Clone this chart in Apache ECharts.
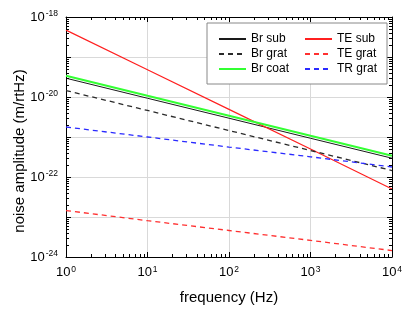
<!DOCTYPE html>
<html>
<head>
<meta charset="utf-8">
<script src="https://cdn.jsdelivr.net/npm/echarts@6/dist/echarts.min.js"></script>
<style>html,body{margin:0;padding:0;background:#fff}#c{width:409px;height:312px}</style>
</head>
<body>
<div id="c"></div>
<script>
// ---- data ----
const freqs   = [1, 10, 100, 1000, 10000];
const brSub   = [2.95e-20, 9.3e-21, 2.95e-21, 9.3e-22, 2.95e-22];
const teSub   = [4.7e-19, 4.8e-20, 4.9e-21, 5.0e-22, 5.0e-23];
const brGrat  = [1.45e-20, 4.6e-21, 1.45e-21, 4.6e-22, 1.45e-22];
const teGrat  = [1.45e-23, 8.1e-24, 4.6e-24, 2.6e-24, 1.45e-24];
const brCoat  = [3.4e-20, 1.07e-20, 3.4e-21, 1.07e-21, 3.4e-22];
const trGrat  = [1.78e-21, 1.0e-21, 5.6e-22, 3.2e-22, 1.78e-22];
const seriesNames = ['Br sub', 'TE sub', 'Br grat', 'TE grat', 'Br coat', 'TR grat'];
const xMin = 1, xMax = 1e4, yMin = 1e-24, yMax = 1e-18;
const xLabelExps = [0, 1, 2, 3, 4];
const yLabelExps = [-24, -22, -20, -18];
const minorMantissas = [2, 3, 4, 5, 6, 7, 8, 9];
const xDecades = [1, 10, 100, 1000];
const yDecades = [1e-24, 1e-23, 1e-22, 1e-21, 1e-20, 1e-19];

// ECharts' log scale rounds tiny tick values to 0, so the y values are
// plotted in units of 1e-24 m/rtHz and the labels put the exponent back.
const Y_UNIT_EXP = -24;
const yu = (v) => v / Math.pow(10, Y_UNIT_EXP);

const FONT = 'Liberation Sans, Arial, sans-serif';
const pair = (arr) => freqs.map((f, i) => [f, yu(arr[i])]);
const expOf = (v) => Math.round(Math.log10(v));
const rich = {
  b: { fontSize: 13, fontFamily: FONT, color: '#000' },
  s: { fontSize: 8.5, fontFamily: FONT, color: '#000', verticalAlign: 'top', padding: [0, 0, 6, 1] }
};
const xMinor = [], yMinor = [];
xDecades.forEach(d => minorMantissas.forEach(m => xMinor.push([m * d, yu(yMin)])));
yDecades.forEach(d => minorMantissas.forEach(m => yMinor.push([xMin, yu(m * d)])));

const px = (v) => Math.round(v) + 0.5;
function lineEl(x1, y1, x2, y2) {
  return { type: 'line', shape: { x1, y1, x2, y2 }, style: { stroke: '#000', lineWidth: 1 } };
}

function mkLine(name, arr, color, width, dashed) {
  return {
    name, type: 'line', data: pair(arr), showSymbol: false, symbol: 'none',
    lineStyle: { color, width, type: dashed ? [5, 4] : 'solid' },
    itemStyle: { color }, z: 3
  };
}

const chart = echarts.init(document.getElementById('c'));
const axisCommon = () => ({
  type: 'log', logBase: 10,
  nameMoveOverlap: false,
  axisLine: { show: true, onZero: false, lineStyle: { color: '#000', width: 1 } },
  axisTick: { show: true, inside: true, length: 5, lineStyle: { color: '#000' } },
  splitLine: { show: false }
});
chart.setOption({
  animation: false,
  backgroundColor: '#fff',
  grid: { left: 66, right: 17, top: 17, bottom: 55, containLabel: false, outerBoundsMode: 'none' },
  legend: {
    data: seriesNames,
    orient: 'horizontal',
    left: 207, top: 23, width: 170,
    itemWidth: 27, itemHeight: 12, itemGap: 3,
    padding: [10, 0, 9, 11],
    borderColor: '#888', borderWidth: 1, borderRadius: 0,
    backgroundColor: '#fff',
    itemStyle: { color: 'rgba(0,0,0,0)', borderWidth: 0, opacity: 0 },
    textStyle: { fontSize: 12, fontFamily: FONT, color: '#000', width: 50, lineHeight: 12 }
  },
  xAxis: [
    Object.assign(axisCommon(), {
      min: xMin, max: xMax, position: 'bottom',
      name: 'frequency (Hz)', nameLocation: 'middle', nameGap: 33,
      nameTextStyle: { fontSize: 15, fontFamily: FONT, color: '#000' },
      splitLine: { show: true, lineStyle: { color: '#d9d9d9', width: 1 } },
      axisLabel: {
        margin: 8, color: '#000',
        formatter: (v) => { const e = expOf(v); return xLabelExps.includes(e) ? '{b|10}{s|' + e + '}' : ''; },
        rich
      }
    }),
    Object.assign(axisCommon(), { min: xMin, max: xMax, position: 'top', axisLabel: { show: false } })
  ],
  yAxis: [
    Object.assign(axisCommon(), {
      min: yu(yMin), max: yu(yMax), position: 'left',
      name: 'noise amplitude (m/rtHz)', nameLocation: 'middle', nameGap: 39,
      nameTextStyle: { fontSize: 15, fontFamily: FONT, color: '#000', padding: [0, 28, 0, 0] },
      splitLine: { show: true, lineStyle: { color: '#d9d9d9', width: 1 } },
      axisLabel: {
        margin: 8, color: '#000',
        formatter: (v) => { const e = expOf(v) + Y_UNIT_EXP; return yLabelExps.includes(e) ? '{b|10}{s|' + e + '}' : ''; },
        rich
      }
    }),
    Object.assign(axisCommon(), { min: yu(yMin), max: yu(yMax), position: 'right', axisLabel: { show: false } })
  ],
  series: [
    mkLine('Br sub', brSub, '#1a1a1a', 1, false),
    mkLine('TE sub', teSub, '#ff2020', 1.2, false),
    mkLine('Br grat', brGrat, '#2a2a2a', 1.3, true),
    mkLine('TE grat', teGrat, '#ff3030', 1.3, true),
    mkLine('Br coat', brCoat, '#33ff33', 2, false),
    mkLine('TR grat', trGrat, '#2a2aff', 1.3, true),
    {
      type: 'custom', name: 'xminor', data: xMinor, silent: true, clip: false, z: 5,
      renderItem: (params, api) => {
        const v = api.value(0);
        const b = api.coord([v, yu(yMin)]), t = api.coord([v, yu(yMax)]);
        const x = px(b[0]);
        return { type: 'group', children: [lineEl(x, b[1], x, b[1] - 3), lineEl(x, t[1], x, t[1] + 3)] };
      }
    },
    {
      type: 'custom', name: 'yminor', data: yMinor, silent: true, clip: false, z: 5,
      renderItem: (params, api) => {
        const v = api.value(1);
        const l = api.coord([xMin, v]), r = api.coord([xMax, v]);
        const y = px(l[1]);
        return { type: 'group', children: [lineEl(l[0], y, l[0] + 3, y), lineEl(r[0], y, r[0] - 3, y)] };
      }
    }
  ]
});
</script>
</body>
</html>
